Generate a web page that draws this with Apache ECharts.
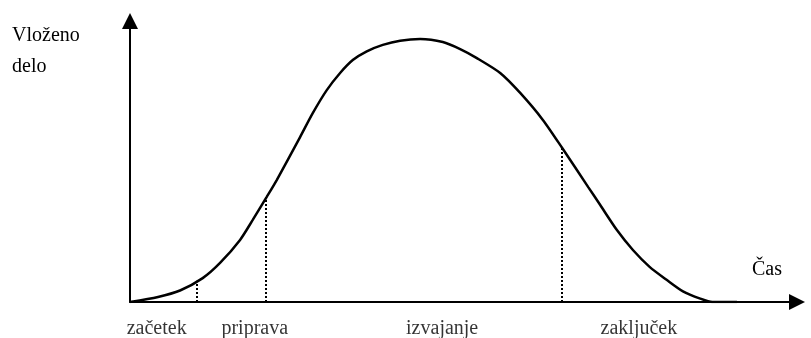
<!DOCTYPE html>
<html>
<head>
<meta charset="utf-8">
<script src="https://cdn.jsdelivr.net/npm/echarts@6/dist/echarts.min.js"></script>
<style>
  html, body { margin: 0; padding: 0; background: #fff; }
  #chart { width: 811px; height: 338px; }
</style>
</head>
<body>
<div id="chart"></div>
<script>
// krivulja vloženega dela skozi čas (0..100 na obeh oseh)
const casX = [0, 4.2, 7.5, 10.9, 13.5, 16.5, 18.4, 20.5, 22.0, 25.5, 27.4, 29.5, 31.5, 33.4, 35.5, 37.9, 40.5, 43.5, 46.9, 49.5, 52.0, 55.5, 58.5, 61.9, 64.8, 68.7, 70.5, 73.0, 75.4, 77.9, 80.5, 82.9, 85.5, 87.3, 91.0]
const deloY = [0, 1.8, 4.1, 8.5, 13.9, 22.1, 29.2, 37.4, 43.4, 58.7, 67.2, 75.4, 81.5, 86.1, 89.2, 91.5, 93.0, 93.6, 92.5, 90.0, 86.8, 81.5, 74.4, 64.8, 54.8, 40.9, 34.5, 25.6, 18.5, 12.5, 7.8, 3.8, 1.2, 0, 0]

// meje faz (pikčaste črte)
const mejeX = [10.0, 20.4, 64.8]
const mejeY = [7.6, 37.2, 54.8]

// imena faz pod osjo
const faze = ['začetek', 'priprava', 'izvajanje', 'zaključek']
const fazeX = [4.0, 18.7, 46.8, 76.3]

const font = '"Liberation Serif", "DejaVu Serif", serif'

const os = {
  type: 'value', min: 0, max: 100,
  splitLine: { show: false },
  axisTick: { show: false },
  axisLabel: { show: false },
  axisLine: {
    lineStyle: { color: '#000', width: 2 },
    symbol: ['none', 'triangle'],
    symbolSize: [16, 16]
  }
}

const chart = echarts.init(document.getElementById('chart'))
chart.setOption({
  animation: false,
  grid: { left: 130, right: 14, top: 21, bottom: 36 },
  xAxis: os,
  yAxis: os,
  graphic: [
    { type: 'text', left: 12, top: 20, style: { text: 'Vloženo\ndelo', font: '20px ' + font, lineHeight: 31, fill: '#000' } },
    { type: 'text', left: 752, top: 260, style: { text: 'Čas', font: '20px ' + font, fill: '#000' } }
  ],
  series: [
    {
      type: 'line',
      data: casX.map((x, i) => [x, deloY[i]]),
      smooth: 0.25,
      showSymbol: false,
      lineStyle: { color: '#000', width: 2.5 },
      markLine: {
        silent: true,
        symbol: 'none',
        label: { show: false },
        lineStyle: { color: '#000', width: 2, type: [2, 2] },
        data: mejeX.map((x, i) => [{ coord: [x, 0] }, { coord: [x, mejeY[i]] }])
      }
    },
    {
      type: 'scatter',
      symbolSize: 0,
      silent: true,
      data: fazeX.map((x, i) => ({ value: [x, 0], name: faze[i] })),
      label: {
        show: true,
        position: 'bottom',
        distance: 17,
        formatter: p => p.name,
        fontFamily: font,
        fontSize: 20,
        color: '#000'
      }
    }
  ]
})
</script>
</body>
</html>
